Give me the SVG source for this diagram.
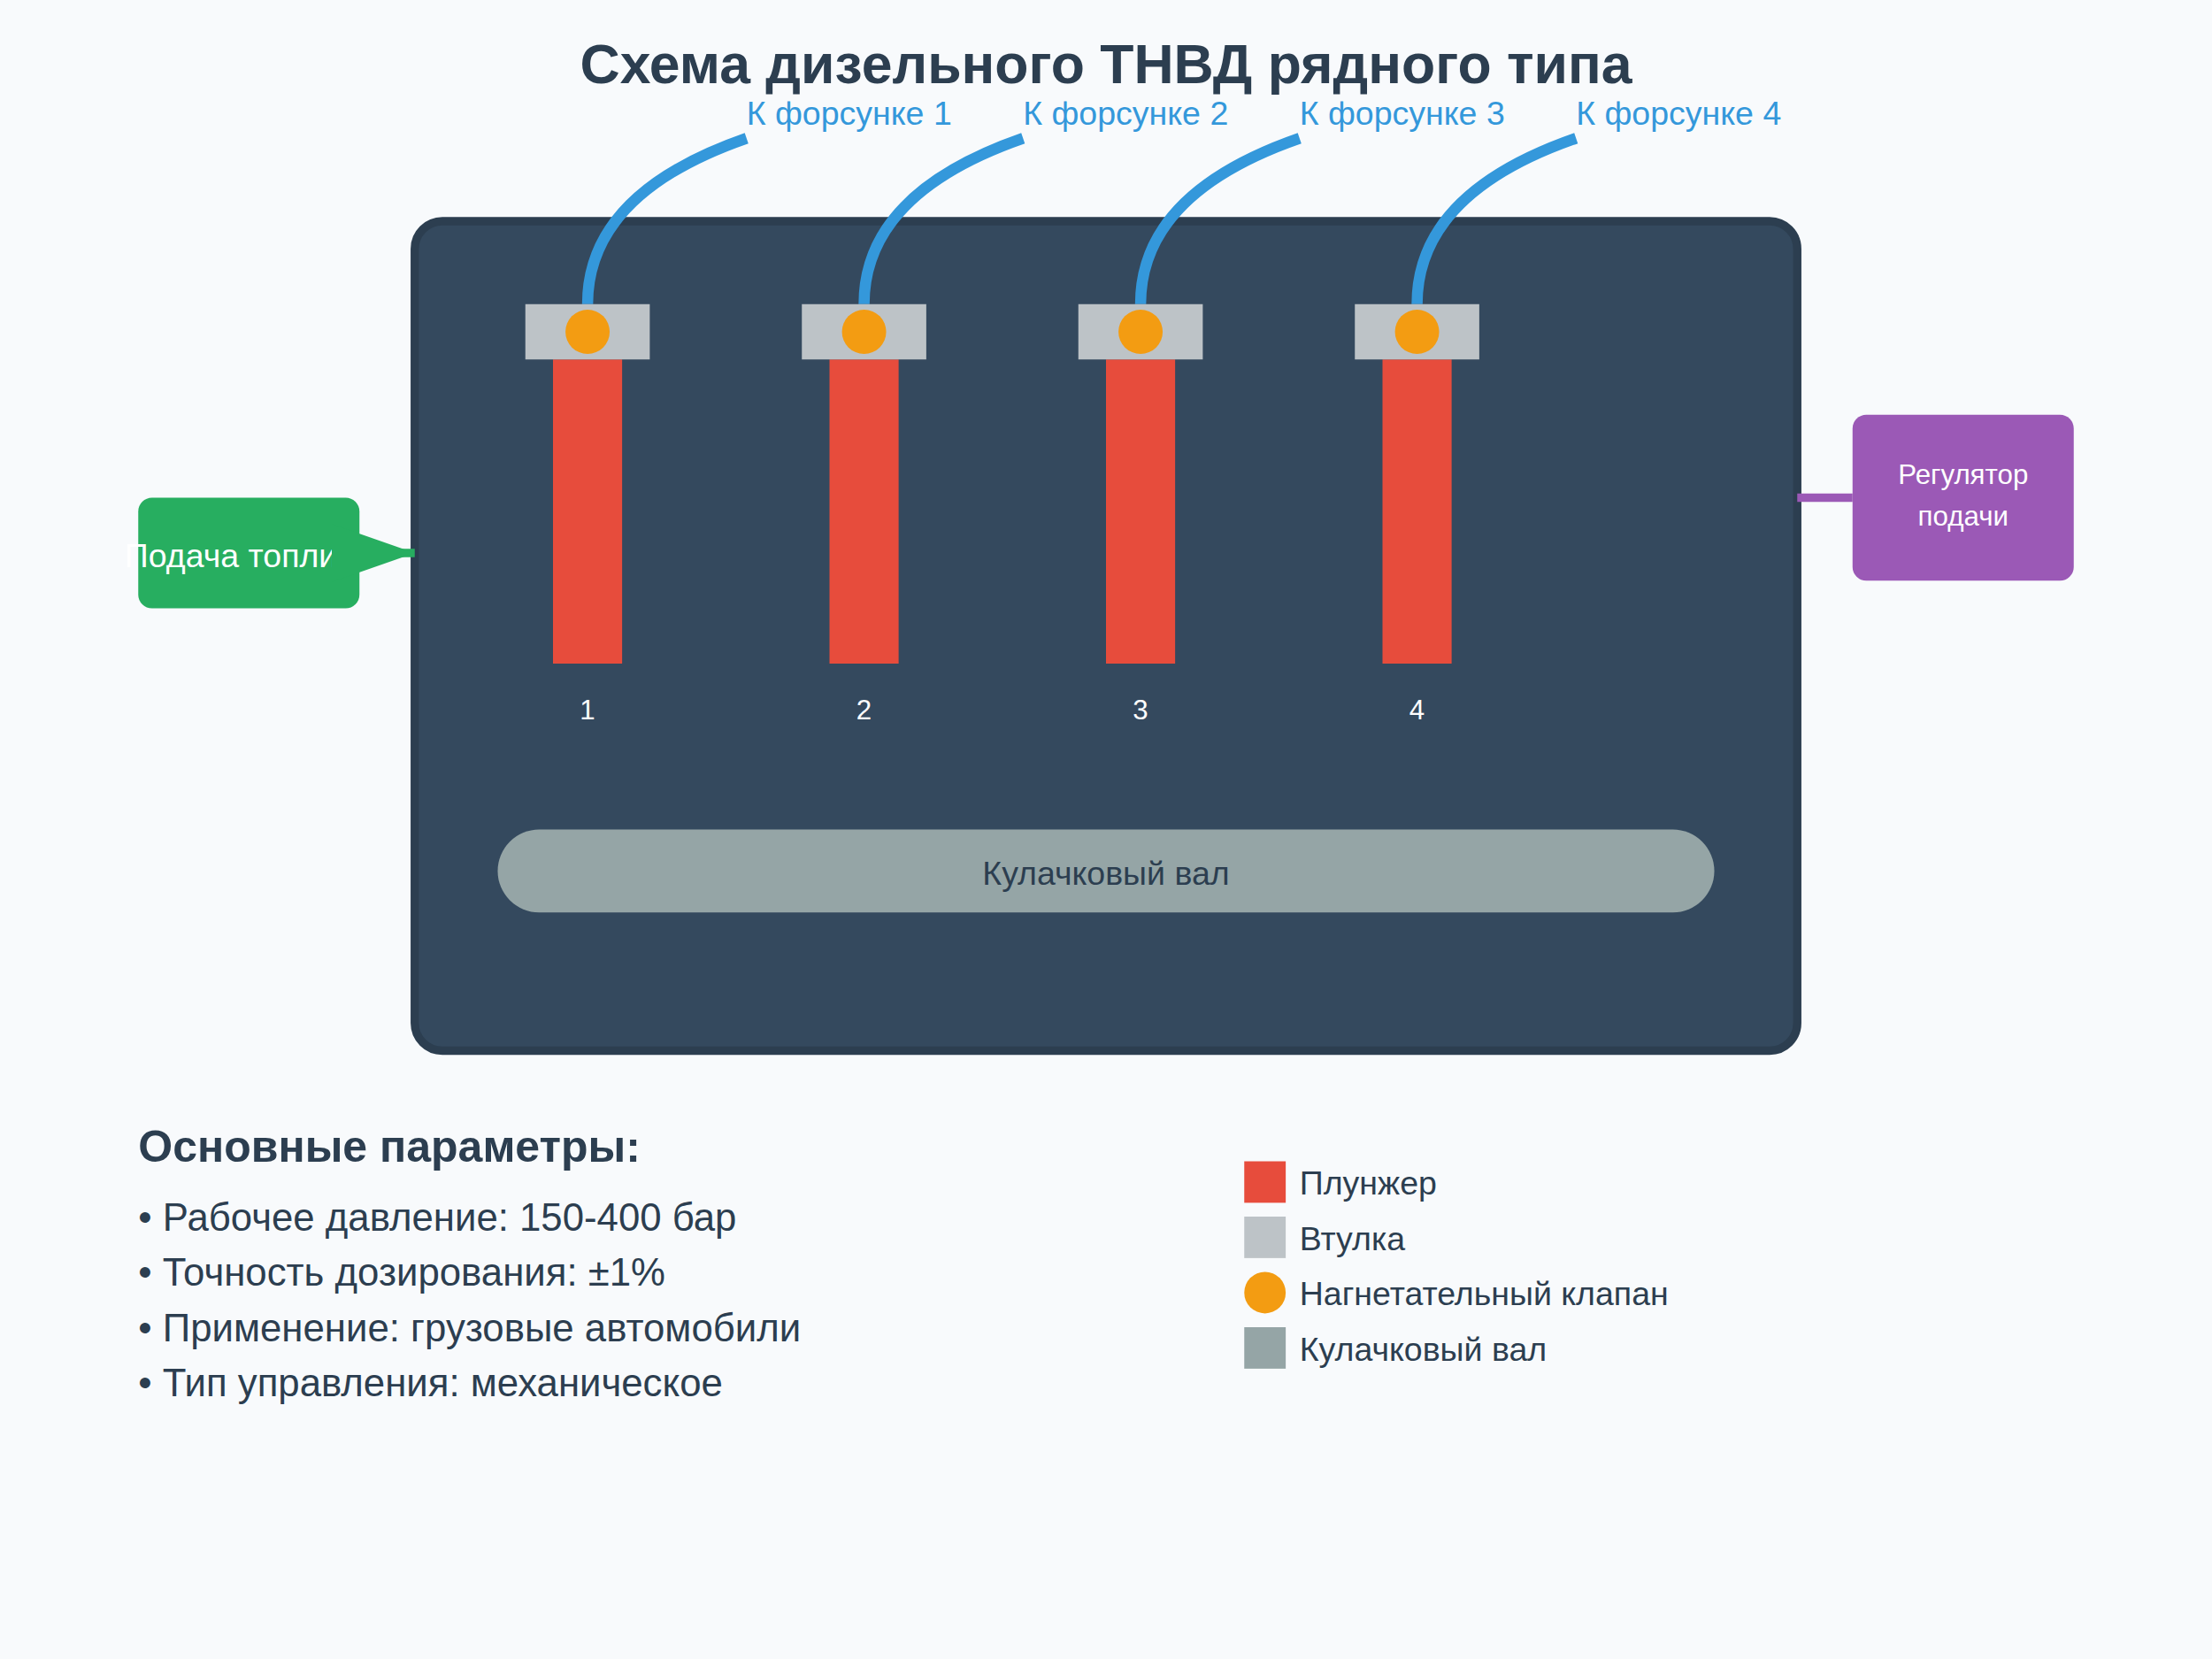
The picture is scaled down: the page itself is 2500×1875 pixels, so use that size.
<svg xmlns="http://www.w3.org/2000/svg" width="2500" height="1875" viewBox="0 0 2500 1875">
<defs><marker id="arrow" markerWidth="10" markerHeight="7" refX="10" refY="3.5" orient="auto"><polygon points="0 0,10 3.5,0 7" fill="#27ae60"/></marker></defs>
<style>
text{font-family:"Liberation Sans",Arial,sans-serif}
.m{text-anchor:middle}
.inj{font-size:12px;fill:#3498db}
.pipe{fill:none;stroke:#3498db;stroke-width:4}
.pl{fill:#e74c3c}
.sl{fill:#bdc3c7}
.va{fill:#f39c12}
.n{font-size:10px;fill:#fff}
.lg{font-size:12px;fill:#2c3e50}
.li{font-size:14px;fill:#2c3e50}
</style>
<g transform="scale(3.125)">
<rect width="800" height="600" fill="#f8fafc"/>
<text id="title" x="400" y="30" class="m" font-size="20" font-weight="bold" fill="#2c3e50">Схема дизельного ТНВД рядного типа</text>
<g id="body"><rect x="150" y="80" width="500" height="300" rx="10" fill="#34495e" stroke="#2c3e50" stroke-width="3"/></g>
<g id="fuel"><rect x="50" y="180" width="80" height="40" rx="5" fill="#27ae60"/><text class="m" x="90" y="205" font-size="12" fill="#fff">Подача топлива</text></g>
<g id="regulator"><rect x="670" y="150" width="80" height="60" rx="5" fill="#9b59b6"/><text class="m" x="710" y="175" font-size="10" fill="#fff">Регулятор</text><text class="m" x="710" y="190" font-size="10" fill="#fff">подачи</text></g>
<g id="connectors">
<path class="pipe" d="M212.500 110Q212.500 70 270 50"/>
<path class="pipe" d="M312.500 110Q312.500 70 370 50"/>
<path class="pipe" d="M412.500 110Q412.500 70 470 50"/>
<path class="pipe" d="M512.500 110Q512.500 70 570 50"/>
<path d="M650 180H670" stroke="#9b59b6" stroke-width="3" fill="none"/>
<path d="M130 200H150" stroke="#27ae60" stroke-width="3" fill="none" marker-end="url(#arrow)"/>
</g>
<g id="plunger1"><rect class="pl" x="200" y="130" width="25" height="110"/><rect class="sl" x="190" y="110" width="45" height="20"/><circle class="va" cx="212.500" cy="120" r="8"/><text class="n m" x="212.500" y="260">1</text></g>
<g id="plunger2"><rect class="pl" x="300" y="130" width="25" height="110"/><rect class="sl" x="290" y="110" width="45" height="20"/><circle class="va" cx="312.500" cy="120" r="8"/><text class="n m" x="312.500" y="260">2</text></g>
<g id="plunger3"><rect class="pl" x="400" y="130" width="25" height="110"/><rect class="sl" x="390" y="110" width="45" height="20"/><circle class="va" cx="412.500" cy="120" r="8"/><text class="n m" x="412.500" y="260">3</text></g>
<g id="plunger4"><rect class="pl" x="500" y="130" width="25" height="110"/><rect class="sl" x="490" y="110" width="45" height="20"/><circle class="va" cx="512.500" cy="120" r="8"/><text class="n m" x="512.500" y="260">4</text></g>
<text class="inj" x="270" y="45">К форсунке 1</text>
<text class="inj" x="370" y="45">К форсунке 2</text>
<text class="inj" x="470" y="45">К форсунке 3</text>
<text class="inj" x="570" y="45">К форсунке 4</text>
<g id="camshaft"><rect x="180" y="300" width="440" height="30" rx="15" fill="#95a5a6"/><text class="m" x="400" y="320" font-size="12" fill="#2c3e50">Кулачковый вал</text></g>
<g id="params"><text x="50" y="420" font-size="16" font-weight="bold" fill="#2c3e50">Основные параметры:</text>
<text class="li" x="50" y="445">• Рабочее давление: 150-400 бар</text>
<text class="li" x="50" y="465">• Точность дозирования: ±1%</text>
<text class="li" x="50" y="485">• Применение: грузовые автомобили</text>
<text class="li" x="50" y="505">• Тип управления: механическое</text></g>
<g id="legend">
<rect class="pl" x="450" y="420" width="15" height="15"/><text class="lg" x="470" y="432">Плунжер</text>
<rect class="sl" x="450" y="440" width="15" height="15"/><text class="lg" x="470" y="452">Втулка</text>
<circle class="va" cx="457.500" cy="467.500" r="7.500"/><text class="lg" x="470" y="472">Нагнетательный клапан</text>
<rect x="450" y="480" width="15" height="15" fill="#95a5a6"/><text class="lg" x="470" y="492">Кулачковый вал</text></g>
</g>
</svg>
